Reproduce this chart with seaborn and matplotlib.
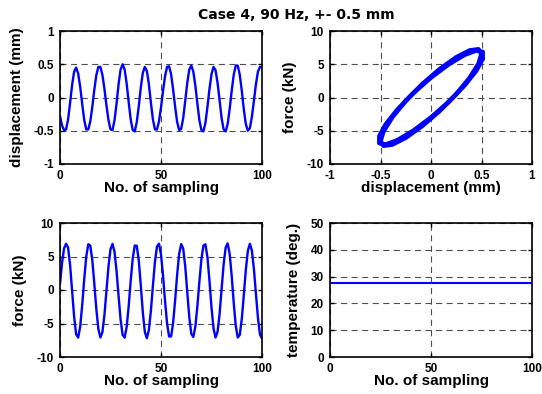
import matplotlib
matplotlib.use("Agg")
import matplotlib.pyplot as plt
import seaborn as sns
import pandas as pd

# ---------------- data ----------------
title = "Case 4, 90 Hz, +- 0.5 mm"
samples = list(range(101))

displacement = [
    -0.28, -0.42, -0.49, -0.48, -0.33, -0.08, 0.19, 0.39, 0.45, 0.36,
    0.16, -0.10, -0.34, -0.48, -0.48, -0.36, -0.14, 0.12, 0.34, 0.46,
    0.46, 0.34, 0.13, -0.12, -0.34, -0.48, -0.49, -0.34, -0.09, 0.20,
    0.42, 0.50, 0.42, 0.21, -0.07, -0.33, -0.49, -0.51, -0.37, -0.13,
    0.15, 0.37, 0.46, 0.40, 0.20, -0.08, -0.33, -0.48, -0.48, -0.36,
    -0.15, 0.10, 0.32, 0.46, 0.47, 0.35, 0.12, -0.14, -0.37, -0.49,
    -0.47, -0.31, -0.05, 0.22, 0.42, 0.48, 0.39, 0.18, -0.09, -0.34,
    -0.49, -0.51, -0.38, -0.14, 0.13, 0.35, 0.46, 0.41, 0.22, -0.04,
    -0.31, -0.48, -0.51, -0.40, -0.17, 0.10, 0.34, 0.48, 0.48, 0.34,
    0.10, -0.18, -0.40, -0.50, -0.46, -0.29, -0.05, 0.20, 0.39, 0.46,
    0.45,
]

force = [
    0.9, 4.0, 6.2, 6.9, 6.32, 3.72, -0.15, -4.02, -6.62, -7.10,
    -5.45, -2.22, 1.64, 4.99, 6.83, 6.62, 4.43, 0.92, -2.88, -5.85,
    -7.09, -6.29, -3.71, -0.10, 3.51, 6.09, 6.89, 5.69, 2.81, -0.91,
    -4.42, -6.69, -7.11, -5.52, -2.41, 1.37, 4.70, 6.64, 6.60, 4.38,
    0.67, -3.32, -6.26, -7.20, -5.98, -3.08, 0.67, 4.20, 6.49, 6.91,
    5.31, 2.17, -1.63, -4.98, -6.94, -6.93, -4.92, -1.50, 2.32, 5.42,
    6.86, 6.18, 3.51, -0.30, -4.06, -6.54, -7.01, -5.48, -2.44, 1.25,
    4.59, 6.64, 6.82, 4.86, 1.35, -2.61, -5.75, -7.09, -6.25, -3.58,
    0.14, 3.80, 6.32, 6.96, 5.40, 2.09, -1.90, -5.33, -7.09, -6.68,
    -4.32, -0.73, 3.03, 5.86, 6.90, 5.88, 3.12, -0.58, -4.18, -6.65,
    -7.25,
]

temperature = [27.7] * 101

# hysteresis loop (two overlapping recorded cycles)
loop_cycle = [1] * 19 + [2] * 19
loop_disp = [
    0.500, 0.470, 0.383, 0.250, 0.087, -0.087, -0.250, -0.383, -0.470, -0.500,
    -0.470, -0.383, -0.250, -0.087, 0.087, 0.250, 0.383, 0.470, 0.500,
    0.512, 0.450, 0.334, 0.178, 0.000, -0.178, -0.334, -0.450, -0.512, -0.512,
    -0.450, -0.334, -0.178, 0.000, 0.178, 0.334, 0.450, 0.512, 0.512,
]
loop_force = [
    6.56, 5.07, 2.97, 0.51, -2.01, -4.29, -6.05, -7.08, -7.26, -6.56,
    -5.07, -2.97, -0.51, 2.01, 4.29, 6.05, 7.08, 7.26, 6.56,
    5.82, 4.07, 1.84, -0.62, -3.00, -5.02, -6.43, -7.07, -6.86, -5.82,
    -4.07, -1.84, 0.62, 3.00, 5.02, 6.43, 7.07, 6.86, 5.82,
]

x_ticks_samp = [0, 50, 100]
x_ticklabels_samp = ["0", "50", "100"]
disp_ticks = [-1, -0.5, 0, 0.5, 1]
disp_ticklabels = ["-1", "-0.5", "0", "0.5", "1"]
force_ticks = [-10, -5, 0, 5, 10]
force_ticklabels = ["-10", "-5", "0", "5", "10"]
temp_ticks = [0, 10, 20, 30, 40, 50]
temp_ticklabels = ["0", "10", "20", "30", "40", "50"]

# ---------------- style ----------------
sns.set_theme(style="white")
plt.rcParams["font.family"] = ["Liberation Sans", "DejaVu Sans"]
plt.rcParams["axes.unicode_minus"] = False
plt.rcParams["text.color"] = "black"
plt.rcParams["axes.labelcolor"] = "black"

W, H = 542, 394
fig = plt.figure(figsize=(W / 100, H / 100), dpi=100)
fig.patch.set_facecolor("white")


def add_ax(l, t, r, b):
    return fig.add_axes([l / W, 1 - b / H, (r - l) / W, (b - t) / H])


ax1 = add_ax(60, 31, 262, 164)
ax2 = add_ax(330, 31, 532, 164)
ax3 = add_ax(60, 223, 262, 357)
ax4 = add_ax(330, 223, 532, 357)

blue = "#0000FF"
df_ts = pd.DataFrame({"sample": samples, "disp": displacement,
                      "force": force, "temp": temperature})
df_loop = pd.DataFrame({"cycle": loop_cycle, "disp": loop_disp, "force": loop_force})

sns.lineplot(data=df_ts, x="sample", y="disp", ax=ax1, color=blue, lw=1.7)
for c in sorted(set(loop_cycle)):
    sub = df_loop[df_loop["cycle"] == c]
    sns.lineplot(data=sub, x="disp", y="force", ax=ax2, color=blue, lw=3.2,
                 sort=False, estimator=None)
sns.lineplot(data=df_ts, x="sample", y="force", ax=ax3, color=blue, lw=1.7)
sns.lineplot(data=df_ts, x="sample", y="temp", ax=ax4, color=blue, lw=1.5)

tick_font = dict(fontsize=8.5, fontweight="bold", color="black")
label_font = dict(fontsize=11, fontweight="bold", color="black")


def style(ax, xt, xtl, yt, ytl, xlab, ylab):
    ax.set_xlim(xt[0], xt[-1])
    ax.set_ylim(yt[0], yt[-1])
    ax.set_xticks(xt)
    ax.set_xticklabels(xtl, **tick_font)
    ax.set_yticks(yt)
    ax.set_yticklabels(ytl, **tick_font)
    ax.set_xlabel(xlab, labelpad=-1, **label_font)
    ax.set_ylabel(ylab, labelpad=7, **label_font)
    ax.grid(True, color="0.3", linestyle=(0, (5.5, 4)), linewidth=0.8)
    ax.set_axisbelow(True)
    for s in ax.spines.values():
        s.set_color("black")
        s.set_linewidth(1.2)
        s.set_visible(True)
    ax.tick_params(direction="in", length=3, width=1, color="black",
                   pad=4.5, labelcolor="black", top=True, right=True,
                   bottom=True, left=True)
    ax.set_facecolor("white")


style(ax1, x_ticks_samp, x_ticklabels_samp, disp_ticks, disp_ticklabels,
      "No. of sampling", "displacement (mm)")
style(ax2, disp_ticks, disp_ticklabels, force_ticks, force_ticklabels,
      "displacement (mm)", "force (kN)")
style(ax3, x_ticks_samp, x_ticklabels_samp, force_ticks, force_ticklabels,
      "No. of sampling", "force (kN)")
style(ax4, x_ticks_samp, x_ticklabels_samp, temp_ticks, temp_ticklabels,
      "No. of sampling", "temperature (deg.)")

fig.text(296 / W, 1 - 15 / H, title, ha="center", va="center",
         fontsize=10, fontweight="bold", family=["DejaVu Sans"], color="black")

fig.savefig("out.png", dpi=100, facecolor="white")
